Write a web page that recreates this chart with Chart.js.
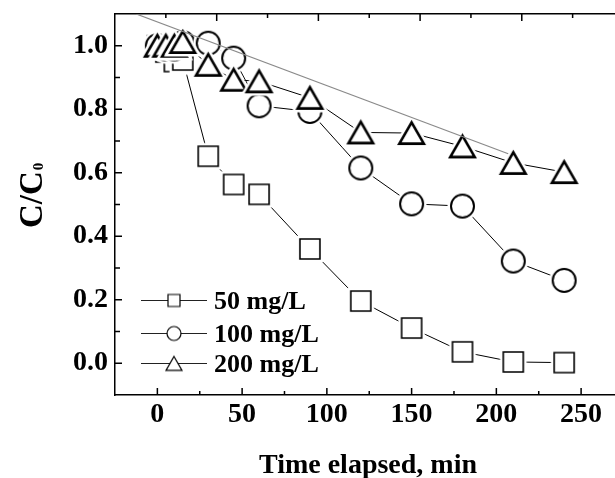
<!DOCTYPE html>
<html>
<head>
<meta charset="utf-8">
<script src="https://cdn.jsdelivr.net/npm/chart.js@4.4.0/dist/chart.umd.min.js"></script>
<style>
  body { margin: 0; background: #fff; }
  canvas { display: block; }
</style>
</head>
<body>
<canvas id="decay" width="615" height="478"></canvas>
<script>
// time points (min) and C/C0 for each initial concentration
const times = [0, 5, 10, 15, 30, 45, 60, 90, 120, 150, 180, 210, 240];
const c50 = [1.00, 0.98, 0.95, 0.955, 0.652, 0.563, 0.532, 0.36, 0.196, 0.111, 0.036, 0.004, 0.002];
const c100 = [1.00, 0.99, 0.99, 1.01, 1.008, 0.961, 0.811, 0.793, 0.615, 0.502, 0.495, 0.322, 0.261];
const c200 = [1.00, 1.00, 1.00, 1.012, 0.94, 0.893, 0.888, 0.836, 0.727, 0.725, 0.683, 0.631, 0.602];
const seriesNames = ['50 mg/L', '100 mg/L', '200 mg/L'];

// grey guide line end points
const guideX = [-12.5, 207];
const guideY = [1.1, 0.66];

// odd tick positions of the top frame axis
const topTicks = [5, 35, 65, 95, 125, 155, 185, 215, 245];
const topMajor = [35, 95, 155, 215];

const serif = '"Liberation Serif", "Times New Roman", serif';

// symbol image; halo = white rim that leaves a small gap to the connecting line
function marker(shape, size, lw, halo) {
  const pad = Math.ceil(lw + halo) + 3;
  const w = size;
  const h = shape === 'triangle' ? size * Math.sqrt(3) / 2 : size;
  const c = document.createElement('canvas');
  c.width = Math.ceil(w + 2 * pad);
  c.height = Math.ceil(h + 2 * pad);
  const g = c.getContext('2d');
  const cx = c.width / 2, cy = c.height / 2;
  g.beginPath();
  if (shape === 'rect') {
    g.rect(cx - w / 2, cy - h / 2, w, h);
  } else if (shape === 'circle') {
    g.arc(cx, cy, w / 2, 0, Math.PI * 2);
  } else {
    g.moveTo(cx, cy - h / 2);
    g.lineTo(cx + w / 2, cy + h / 2);
    g.lineTo(cx - w / 2, cy + h / 2);
    g.closePath();
  }
  g.fillStyle = '#fff';
  g.fill();
  if (halo > 0) {
    g.strokeStyle = '#fff';
    g.lineWidth = lw + 2 * halo;
    g.stroke();
  }
  g.strokeStyle = '#000';
  g.lineWidth = lw;
  g.stroke();
  return c;
}

const bigMarks = [marker('rect', 20, 1.6, 2.5), marker('circle', 23, 2, 2.5), marker('triangle', 24.5, 2.6, 2.5)];
const smallMarks = [marker('rect', 12, 1.2, 0), marker('circle', 14, 1.2, 0), marker('triangle', 16, 1.2, 0)];

const toPoints = (ys) => times.map((t, i) => ({ x: t, y: ys[i] }));

const frameTicks = {
  id: 'frameTicks',
  afterDraw(chart) {
    const ctx = chart.ctx;
    const a = chart.chartArea;
    ctx.save();
    ctx.strokeStyle = '#000';
    ctx.lineWidth = 1.5;
    ctx.beginPath();
    chart.scales.x.ticks.forEach(t => {
      const k = Math.round(t.value);
      if (k % 25 !== 0 || k <= -25 || k >= 270) return;
      const px = chart.scales.x.getPixelForValue(t.value);
      const len = k % 50 === 0 ? 7 : 4;
      ctx.moveTo(px, a.bottom);
      ctx.lineTo(px, a.bottom - len);
    });
    chart.scales.x2.ticks.forEach(t => {
      const px = chart.scales.x2.getPixelForValue(t.value);
      const len = topMajor.includes(t.value) ? 7 : 4;
      ctx.moveTo(px, a.top);
      ctx.lineTo(px, a.top + len);
    });
    chart.scales.y.ticks.forEach(t => {
      const k = Math.round(t.value * 10);
      if (k <= -1 || k >= 11) return;
      const py = chart.scales.y.getPixelForValue(t.value);
      const len = k % 2 === 0 ? 7 : 5;
      ctx.moveTo(a.left, py);
      ctx.lineTo(a.left + len, py);
    });
    ctx.stroke();
    ctx.restore();
  }
};

const annotations = {
  id: 'annotations',
  afterDraw(chart) {
    const ctx = chart.ctx;
    ctx.save();
    ctx.fillStyle = '#000';

    // x title
    ctx.font = 'bold 28px ' + serif;
    ctx.textAlign = 'center';
    ctx.textBaseline = 'alphabetic';
    ctx.fillText('Time elapsed, min', 368, 473);

    // y title C/C0
    ctx.save();
    ctx.translate(41.5, 228);
    ctx.rotate(-Math.PI / 2);
    ctx.textAlign = 'left';
    ctx.font = 'bold 33px ' + serif;
    ctx.fillText('C/C', 0, 0);
    const w = ctx.measureText('C/C').width;
    ctx.font = 'bold 15px ' + serif;
    ctx.fillText('0', w + 1, 1);
    ctx.restore();

    // legend
    const rows = [300, 333, 363];
    ctx.font = 'bold 26px ' + serif;
    ctx.textAlign = 'left';
    rows.forEach((ry, i) => {
      ctx.strokeStyle = '#222';
      ctx.lineWidth = 1;
      ctx.beginPath();
      ctx.moveTo(141, ry + 0.5);
      ctx.lineTo(207, ry + 0.5);
      ctx.stroke();
      const m = smallMarks[i];
      ctx.drawImage(m, 174 - m.width / 2, ry + 0.5 - m.height / 2);
      ctx.fillText(seriesNames[i], 214, ry + 9);
    });
    ctx.restore();
  }
};

const lineSet = (ys, mark, order) => ({
  data: toPoints(ys),
  borderColor: '#000',
  borderWidth: 1,
  pointStyle: mark,
  pointRadius: 10,
  pointHoverRadius: 10,
  showLine: true,
  order: order
});

const noPad = (s) => {
  s.paddingLeft = 0;
  s.paddingRight = 0;
  s.paddingTop = 0;
  s.paddingBottom = 0;
};

new Chart(document.getElementById('decay'), {
  type: 'scatter',
  data: {
    datasets: [
      {
        data: guideX.map((x, i) => ({ x: x, y: guideY[i] })),
        borderColor: '#8a8a8a',
        borderWidth: 1.2,
        pointRadius: 0,
        showLine: true,
        order: 0
      },
      lineSet(c200, bigMarks[2], 1),
      lineSet(c100, bigMarks[1], 2),
      lineSet(c50, bigMarks[0], 3)
    ]
  },
  options: {
    responsive: false,
    devicePixelRatio: 1,
    animation: false,
    layout: { padding: 0, autoPadding: false },
    plugins: {
      legend: { display: false },
      tooltip: { enabled: false }
    },
    scales: {
      x: {
        type: 'linear',
        position: 'bottom',
        min: -25,
        max: 270,
        grid: { display: false, drawTicks: false },
        border: { display: true, color: '#000', width: 1.5 },
        ticks: {
          stepSize: 25,
          includeBounds: false,
          autoSkip: false,
          maxRotation: 0,
          padding: 3,
          color: '#000',
          font: { family: serif, size: 28, weight: 'bold' },
          callback: (v) => (Math.round(v) % 50 === 0 && v >= 0 && v <= 250) ? String(Math.round(v)) : ''
        },
        afterFit: (s) => { s.height = 83; noPad(s); }
      },
      x2: {
        type: 'linear',
        position: 'top',
        min: -25,
        max: 270,
        grid: { display: false, drawTicks: false },
        border: { display: true, color: '#000', width: 1.5 },
        ticks: { display: false },
        afterBuildTicks: (s) => { s.ticks = topTicks.map(v => ({ value: v })); },
        afterFit: (s) => { s.height = 14; noPad(s); }
      },
      y: {
        type: 'linear',
        min: -0.1,
        max: 1.1,
        grid: { display: false, drawTicks: false },
        border: { display: true, color: '#000', width: 1.5 },
        ticks: {
          stepSize: 0.1,
          includeBounds: false,
          autoSkip: false,
          padding: 7,
          color: '#000',
          font: { family: serif, size: 28, weight: 'bold' },
          callback: (v) => {
            const k = Math.round(v * 10);
            return (k % 2 === 0 && k >= 0 && k <= 10) ? (k / 10).toFixed(1) : '';
          }
        },
        afterFit: (s) => { s.width = 115; noPad(s); }
      }
    }
  },
  plugins: [frameTicks, annotations]
});
</script>
</body>
</html>
